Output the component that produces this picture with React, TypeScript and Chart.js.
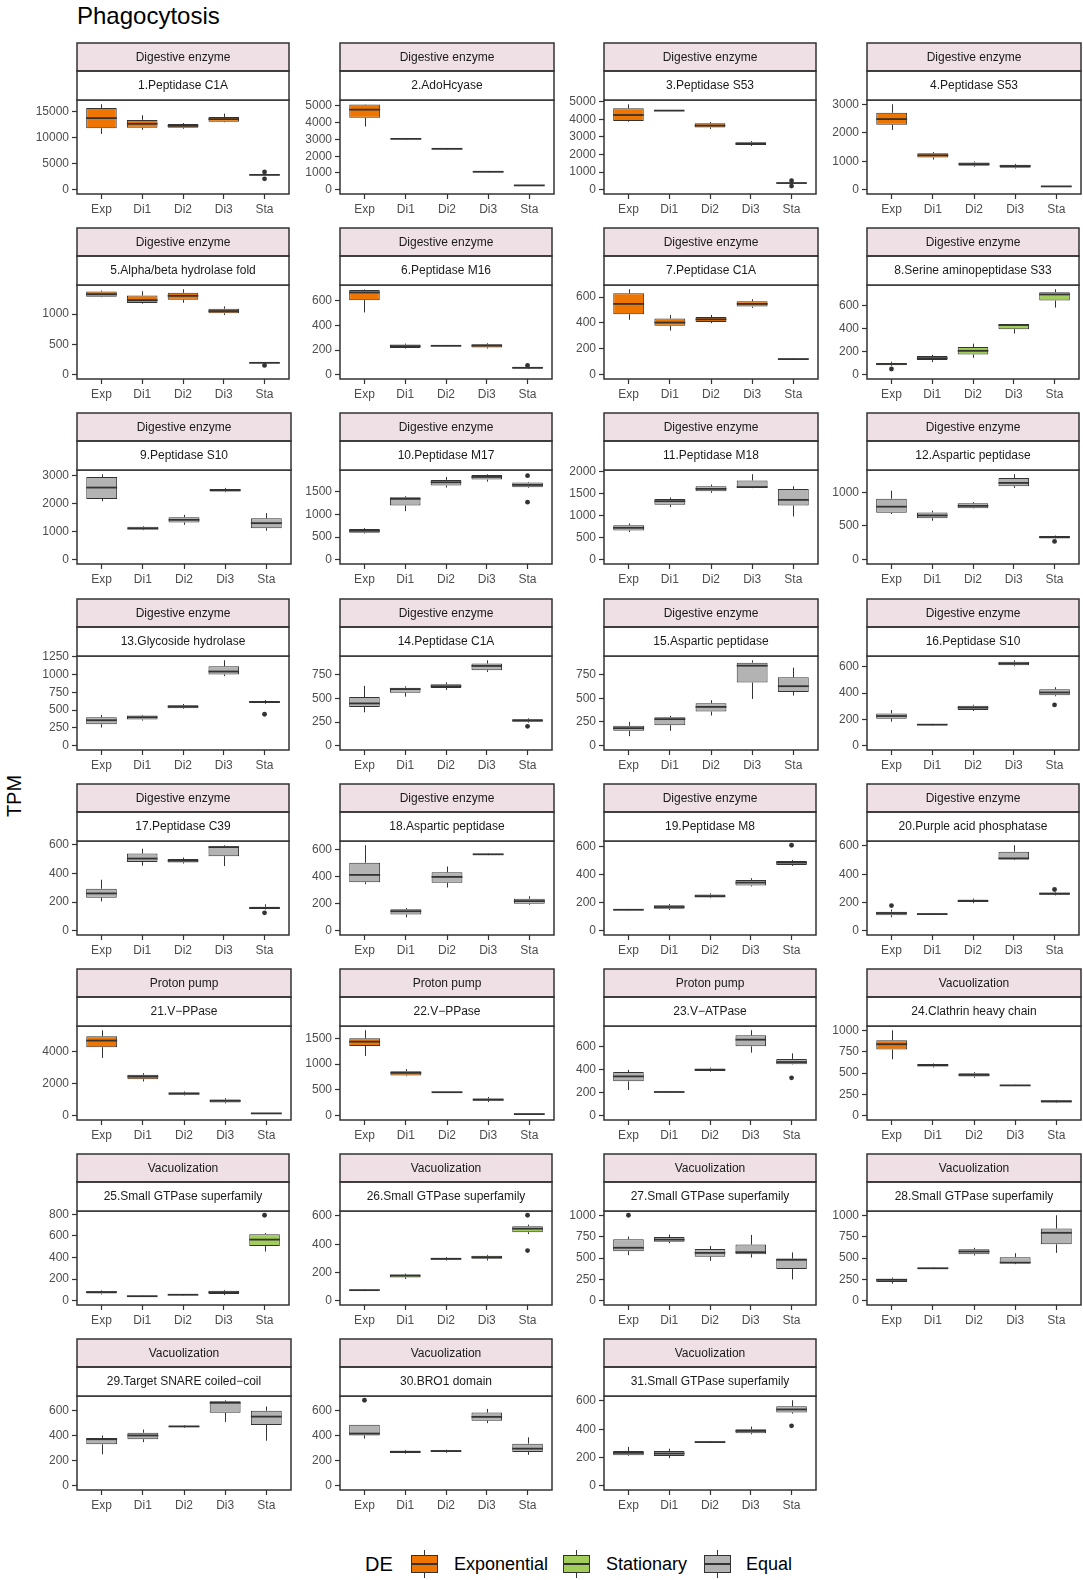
import React, { useEffect, useRef } from 'react';
import { Chart, registerables } from 'chart.js';

Chart.register(...registerables);

// Sampling stages shown on every panel's x axis
const GROUPS = ['Exp', 'Di1', 'Di2', 'Di3', 'Sta'];

// Functional category (upper strip) and gene family (lower strip) of each panel
const CATEGORY = [
  'Digestive enzyme', 'Digestive enzyme', 'Digestive enzyme', 'Digestive enzyme',
  'Digestive enzyme', 'Digestive enzyme', 'Digestive enzyme', 'Digestive enzyme',
  'Digestive enzyme', 'Digestive enzyme', 'Digestive enzyme', 'Digestive enzyme',
  'Digestive enzyme', 'Digestive enzyme', 'Digestive enzyme', 'Digestive enzyme',
  'Digestive enzyme', 'Digestive enzyme', 'Digestive enzyme', 'Digestive enzyme',
  'Proton pump', 'Proton pump', 'Proton pump', 'Vacuolization',
  'Vacuolization', 'Vacuolization', 'Vacuolization', 'Vacuolization',
  'Vacuolization', 'Vacuolization', 'Vacuolization',
];

const GENE = [
  '1.Peptidase C1A', '2.AdoHcyase', '3.Peptidase S53', '4.Peptidase S53',
  '5.Alpha/beta hydrolase fold', '6.Peptidase M16', '7.Peptidase C1A', '8.Serine aminopeptidase S33',
  '9.Peptidase S10', '10.Peptidase M17', '11.Peptidase M18', '12.Aspartic peptidase',
  '13.Glycoside hydrolase', '14.Peptidase C1A', '15.Aspartic peptidase', '16.Peptidase S10',
  '17.Peptidase C39', '18.Aspartic peptidase', '19.Peptidase M8', '20.Purple acid phosphatase',
  '21.V\u2212PPase', '22.V\u2212PPase', '23.V\u2212ATPase', '24.Clathrin heavy chain',
  '25.Small GTPase superfamily', '26.Small GTPase superfamily', '27.Small GTPase superfamily', '28.Small GTPase superfamily',
  '29.Target SNARE coiled\u2212coil', '30.BRO1 domain', '31.Small GTPase superfamily',
];

// Differential-expression class of each panel (fill colour of its boxes)
const DE = [
  'Exponential', 'Exponential', 'Exponential', 'Exponential',
  'Exponential', 'Exponential', 'Exponential', 'Stationary',
  'Equal', 'Equal', 'Equal', 'Equal',
  'Equal', 'Equal', 'Equal', 'Equal',
  'Equal', 'Equal', 'Equal', 'Equal',
  'Exponential', 'Exponential', 'Equal', 'Exponential',
  'Stationary', 'Stationary', 'Equal', 'Equal',
  'Equal', 'Equal', 'Equal',
];

const DE_LEVELS = ['Exponential', 'Stationary', 'Equal'];

// Spacing of the y-axis tick labels per panel
const TICK_STEP = [
  5000, 1000, 1000, 1000,
  500, 200, 200, 200,
  1000, 500, 500, 500,
  250, 250, 250, 200,
  200, 200, 200, 200,
  2000, 500, 200, 250,
  200, 200, 250, 250,
  200, 200, 200,
];

// TPM box statistics, one row per panel, one column per stage (Exp, Di1, Di2, Di3, Sta)
const LOWER = [
  [10700, 11500, 11700, 12950, 2750],
  [3770, 3000, 2410, 1040, 240],
  [3860, 4470, 3450, 2480, 330],
  [2100, 1060, 805, 745, 100],
  [1280, 1171, 1188, 986, 188],
  [505, 212, 230, 212, 46],
  [424, 341, 398, 516, 115],
  [76, 109, 147, 358, 584],
  [2079, 1051, 1240, 2398, 1027],
  [581, 1074, 1596, 1728, 1588],
  [627, 1193, 1517, 1625, 981],
  [677, 577, 759, 1064, 310],
  [256, 353, 516, 977, 590],
  [354, 520, 590, 780, 245],
  [101, 157, 318, 493, 528],
  [183, 155, 264, 605, 376],
  [205, 455, 470, 453, 148],
  [346, 100, 321, 562, 193],
  [146, 148, 233, 317, 464],
  [95, 112, 195, 500, 250],
  [3590, 2124, 1258, 763, 120],
  [1156, 766, 448, 266, 28],
  [224, 200, 385, 550, 445],
  [661, 564, 444, 350, 150],
  [58, 35, 50, 52, 455],
  [68, 154, 285, 285, 472],
  [533, 673, 467, 506, 250],
  [200, 372, 529, 428, 560],
  [250, 347, 460, 508, 358],
  [375, 255, 262, 498, 246],
  [210, 195, 302, 364, 510],
];

const Q1 = [
  [11800, 11900, 11900, 13050, 2800],
  [4290, 3020, 2430, 1055, 250],
  [3900, 4480, 3530, 2540, 355],
  [2280, 1130, 840, 770, 110],
  [1286, 1182, 1237, 1013, 192],
  [604, 217, 232, 220, 51],
  [467, 378, 408, 526, 118],
  [82, 127, 176, 396, 645],
  [2161, 1075, 1323, 2421, 1122],
  [596, 1199, 1640, 1772, 1603],
  [664, 1246, 1555, 1635, 1230],
  [696, 616, 764, 1089, 315],
  [302, 367, 525, 1000, 600],
  [410, 560, 612, 800, 255],
  [157, 216, 360, 665, 567],
  [206, 158, 272, 612, 384],
  [231, 481, 478, 522, 152],
  [360, 120, 356, 565, 200],
  [148, 157, 238, 324, 470],
  [110, 115, 203, 505, 255],
  [4250, 2268, 1300, 825, 130],
  [1351, 779, 452, 290, 30],
  [300, 204, 390, 605, 448],
  [774, 575, 458, 352, 155],
  [66, 38, 53, 62, 505],
  [72, 165, 290, 298, 485],
  [580, 690, 515, 545, 370],
  [220, 375, 545, 440, 660],
  [330, 370, 465, 580, 484],
  [400, 260, 268, 517, 268],
  [215, 210, 305, 372, 519],
];

const MEDIAN = [
  [13750, 12650, 12250, 13550, 2850],
  [4780, 3035, 2440, 1070, 258],
  [4240, 4490, 3640, 2610, 380],
  [2480, 1210, 900, 830, 117],
  [1329, 1231, 1302, 1051, 196],
  [666, 231, 234, 236, 56],
  [547, 403, 428, 547, 121],
  [94, 144, 208, 432, 698],
  [2563, 1110, 1417, 2468, 1299],
  [640, 1346, 1713, 1831, 1655],
  [725, 1329, 1608, 1650, 1359],
  [786, 656, 798, 1138, 335],
  [358, 400, 549, 1042, 614],
  [448, 600, 630, 845, 268],
  [185, 280, 409, 843, 627],
  [226, 160, 290, 625, 405],
  [261, 505, 490, 585, 160],
  [415, 145, 400, 568, 220],
  [150, 170, 248, 345, 488],
  [125, 118, 212, 512, 262],
  [4660, 2433, 1380, 928, 145],
  [1435, 831, 456, 312, 32],
  [343, 207, 400, 663, 468],
  [837, 591, 478, 355, 168],
  [80, 42, 55, 78, 565],
  [75, 178, 297, 308, 510],
  [620, 715, 560, 568, 479],
  [245, 380, 576, 445, 795],
  [370, 400, 472, 660, 550],
  [415, 270, 276, 548, 295],
  [233, 228, 309, 388, 540],
];

const Q3 = [
  [15700, 13400, 12600, 13950, 2900],
  [5080, 3050, 2450, 1080, 265],
  [4620, 4500, 3770, 2700, 400],
  [2700, 1280, 955, 875, 125],
  [1373, 1307, 1351, 1089, 200],
  [687, 244, 236, 247, 62],
  [629, 434, 445, 568, 124],
  [103, 162, 241, 440, 718],
  [2940, 1169, 1512, 2516, 1476],
  [677, 1383, 1765, 1875, 1706],
  [785, 1381, 1668, 1800, 1608],
  [904, 701, 837, 1212, 350],
  [400, 423, 567, 1116, 628],
  [515, 615, 650, 870, 280],
  [210, 300, 448, 875, 721],
  [246, 163, 305, 638, 429],
  [294, 540, 502, 592, 168],
  [505, 160, 435, 570, 238],
  [152, 183, 260, 364, 500],
  [135, 122, 220, 560, 270],
  [4930, 2537, 1440, 1010, 155],
  [1500, 864, 460, 335, 34],
  [381, 210, 412, 701, 495],
  [883, 605, 498, 358, 180],
  [88, 46, 58, 92, 615],
  [78, 185, 302, 318, 528],
  [720, 745, 605, 657, 494],
  [258, 384, 603, 510, 845],
  [380, 422, 478, 672, 597],
  [485, 278, 282, 582, 335],
  [245, 245, 313, 400, 562],
];

const UPPER = [
  [16400, 14300, 12800, 14600, 2950],
  [5100, 3070, 2460, 1095, 275],
  [4850, 4510, 3840, 2760, 420],
  [3000, 1320, 990, 910, 130],
  [1389, 1378, 1410, 1128, 204],
  [692, 252, 238, 255, 66],
  [660, 462, 462, 583, 128],
  [114, 173, 270, 442, 743],
  [3035, 1193, 1594, 2551, 1653],
  [699, 1405, 1831, 1890, 1720],
  [823, 1412, 1706, 1940, 1668],
  [1023, 726, 852, 1266, 358],
  [432, 432, 586, 1200, 641],
  [634, 630, 672, 905, 290],
  [252, 315, 479, 900, 822],
  [272, 166, 312, 650, 445],
  [357, 574, 512, 598, 185],
  [635, 168, 477, 573, 256],
  [154, 191, 268, 376, 507],
  [150, 125, 228, 605, 275],
  [5300, 2640, 1505, 1093, 165],
  [1656, 903, 464, 364, 36],
  [400, 213, 420, 745, 544],
  [1000, 611, 510, 362, 185],
  [95, 50, 60, 100, 625],
  [82, 192, 308, 325, 539],
  [751, 774, 640, 770, 565],
  [272, 388, 619, 556, 1000],
  [400, 447, 482, 680, 630],
  [485, 285, 287, 611, 385],
  [275, 262, 316, 419, 605],
];

// Outlying replicates per panel and stage
const OUTLIERS: number[][][] = [
  [[], [], [], [], [3400, 2100]],
  [[], [], [], [], []],
  [[], [], [], [], [510, 210]],
  [[], [], [], [], []],
  [[], [], [], [], [153]],
  [[], [], [], [], [75]],
  [[], [], [], [], []],
  [[50], [], [], [], []],
  [[], [], [], [], []],
  [[], [], [], [], [1860, 1272]],
  [[], [], [], [], []],
  [[], [], [], [], [271]],
  [[], [], [], [], [442]],
  [[], [], [], [], [205]],
  [[], [], [], [], []],
  [[], [], [], [], [310]],
  [[], [], [], [], [125]],
  [[], [], [], [], []],
  [[], [], [], [], [612]],
  [[178], [], [], [], [292]],
  [[], [], [], [], []],
  [[], [], [], [], []],
  [[], [], [], [], [330]],
  [[], [], [], [], []],
  [[], [], [], [], [790]],
  [[], [], [], [], [605, 355]],
  [[1000], [], [], [], []],
  [[], [], [], [], []],
  [[], [], [], [], []],
  [[680], [], [], [], []],
  [[], [], [], [], [424]],
];

const DE_COLORS: Record<string, string> = {
  Exponential: '#EE7600',
  Stationary: '#A2CD5A',
  Equal: '#B3B3B3',
};

const FONT = '"Liberation Sans", Arial, Helvetica, sans-serif';
const INK = '#333333';
const STRIP_FILL = '#EEE0E5';

// Facet grid geometry (page pixels)
const COL_LEFT = [77, 340, 604, 867];
const ROW_TOP = [43, 228, 413, 599, 784, 969, 1154, 1339];
const PLOT_W = 214;
const PLOT_H = 94;
const STRIP_H = [28, 29];
const AXIS_W = 60;
const XAXIS_H = 24;
const TOP_PAD = 1 + STRIP_H[0] + STRIP_H[1];

function Panel({ index }: { index: number }) {
  const ref = useRef<HTMLCanvasElement>(null);
  const col = index % 4;
  const row = Math.floor(index / 4);
  const canvasW = AXIS_W + PLOT_W + 2;
  const canvasH = TOP_PAD + PLOT_H + XAXIS_H + 1;

  useEffect(() => {
    const canvas = ref.current;
    if (!canvas) return;

    const outlierPoints: { x: number; y: number }[] = [];
    OUTLIERS[index].forEach((vals, g) => vals.forEach((v) => outlierPoints.push({ x: g, y: v })));
    const peak = Math.max(...UPPER[index], ...outlierPoints.map((p) => p.y));
    const step = TICK_STEP[index];
    const fill = DE_COLORS[DE[index]];

    const boxParts = {
      id: 'boxParts',
      beforeDatasetsDraw(chart: any) {
        const { ctx, scales } = chart;
        const x = scales.x;
        const y = scales.y;
        ctx.save();
        ctx.strokeStyle = INK;
        ctx.lineWidth = 1;
        GROUPS.forEach((_, g) => {
          const px = Math.round(x.getPixelForValue(g)) + 0.5;
          ctx.beginPath();
          ctx.moveTo(px, y.getPixelForValue(UPPER[index][g]));
          ctx.lineTo(px, y.getPixelForValue(Q3[index][g]));
          ctx.moveTo(px, y.getPixelForValue(Q1[index][g]));
          ctx.lineTo(px, y.getPixelForValue(LOWER[index][g]));
          ctx.stroke();
        });
        ctx.restore();
      },
      afterDatasetsDraw(chart: any) {
        const { ctx, scales, chartArea } = chart;
        const y = scales.y;
        const meta = chart.getDatasetMeta(1);
        ctx.save();
        ctx.strokeStyle = INK;
        ctx.lineWidth = 1.8;
        meta.data.forEach((bar: any, g: number) => {
          const py = y.getPixelForValue(MEDIAN[index][g]);
          ctx.beginPath();
          ctx.moveTo(bar.x - bar.width / 2, py);
          ctx.lineTo(bar.x + bar.width / 2, py);
          ctx.stroke();
        });
        ctx.lineWidth = 1.5;
        ctx.strokeRect(chartArea.left, chartArea.top, chartArea.right - chartArea.left, chartArea.bottom - chartArea.top);
        ctx.restore();
      },
      afterDraw(chart: any) {
        const { ctx, chartArea } = chart;
        const l = chartArea.left;
        const w = chartArea.right - chartArea.left;
        const y0 = 1;
        const y1 = y0 + STRIP_H[0];
        const y2 = y1 + STRIP_H[1];
        ctx.save();
        ctx.fillStyle = STRIP_FILL;
        ctx.fillRect(l, y0, w, STRIP_H[0]);
        ctx.fillStyle = '#FFFFFF';
        ctx.fillRect(l, y1, w, STRIP_H[1]);
        ctx.strokeStyle = INK;
        ctx.lineWidth = 1.5;
        ctx.strokeRect(l, y0, w, STRIP_H[0]);
        ctx.strokeRect(l, y1, w, STRIP_H[1]);
        ctx.fillStyle = '#1A1A1A';
        ctx.font = `12px ${FONT}`;
        ctx.textAlign = 'center';
        ctx.textBaseline = 'middle';
        ctx.fillText(CATEGORY[index], l + w / 2, (y0 + y1) / 2 + 0.5);
        ctx.fillText(GENE[index], l + w / 2, (y1 + y2) / 2 + 0.5);
        ctx.restore();
      },
    };

    const tickFont = { family: FONT, size: 12 };

    const chart = new Chart(canvas, {
      type: 'bar',
      data: {
        datasets: [
          {
            type: 'scatter',
            data: outlierPoints,
            pointRadius: 2.4,
            pointBackgroundColor: INK,
            pointBorderWidth: 0,
            order: 0,
          } as any,
          {
            type: 'bar',
            data: GROUPS.map((_, g) => ({ x: g, y: [Q1[index][g], Q3[index][g]] })),
            backgroundColor: fill,
            borderColor: INK,
            borderWidth: 1,
            borderSkipped: false,
            categoryPercentage: 1,
            barPercentage: 0.75,
            order: 1,
          } as any,
        ],
      },
      options: {
        animation: false,
        responsive: false,
        events: [],
        layout: { padding: { top: TOP_PAD, left: 0, right: 2, bottom: 0 } },
        plugins: { legend: { display: false }, tooltip: { enabled: false } },
        scales: {
          x: {
            type: 'linear',
            min: -0.6,
            max: 4.6,
            offset: false,
            afterBuildTicks: (scale: any) => {
              scale.ticks = GROUPS.map((_, g) => ({ value: g }));
            },
            afterFit: (scale: any) => {
              scale.height = XAXIS_H + 1;
            },
            ticks: {
              autoSkip: false,
              maxRotation: 0,
              padding: 3,
              color: '#4D4D4D',
              font: tickFont,
              callback: (v: any) => GROUPS[v] ?? '',
            },
            grid: {
              offset: false,
              drawOnChartArea: false,
              drawTicks: true,
              tickLength: 5,
              tickWidth: 1.2,
              color: INK,
            },
            border: { display: false },
          },
          y: {
            type: 'linear',
            min: -0.05 * peak,
            max: 1.05 * peak,
            afterBuildTicks: (scale: any) => {
              const t = [];
              for (let v = 0; v <= 1.05 * peak; v += step) t.push({ value: v });
              scale.ticks = t;
            },
            afterFit: (scale: any) => {
              scale.width = AXIS_W;
            },
            ticks: {
              autoSkip: false,
              padding: 3,
              color: '#4D4D4D',
              font: tickFont,
              callback: (v: any) => String(v),
            },
            grid: {
              drawOnChartArea: false,
              drawTicks: true,
              tickLength: 5,
              tickWidth: 1.2,
              color: INK,
            },
            border: { display: false },
          },
        },
      } as any,
      plugins: [boxParts],
    });

    return () => chart.destroy();
  }, [index]);

  return (
    <canvas
      ref={ref}
      width={canvasW}
      height={canvasH}
      style={{
        position: 'absolute',
        left: COL_LEFT[col] - AXIS_W,
        top: ROW_TOP[row] - 1,
        width: canvasW,
        height: canvasH,
      }}
    />
  );
}

function LegendKey({ color }: { color: string }) {
  return (
    <div style={{ position: 'relative', width: 27, height: 28 }}>
      <div style={{ position: 'absolute', left: 13, top: 0, width: 1, height: 28, background: INK }} />
      <div
        style={{
          position: 'absolute',
          left: 0,
          top: 5,
          width: 27,
          height: 18,
          boxSizing: 'border-box',
          background: color,
          border: `1px solid ${INK}`,
        }}
      />
      <div style={{ position: 'absolute', left: 0, top: 13, width: 27, height: 1.5, background: INK }} />
    </div>
  );
}

export default function App() {
  const legendX = [411, 563, 704];
  const labelX = [454, 606, 746];
  return (
    <div
      style={{
        position: 'absolute',
        left: 0,
        top: 0,
        width: 1083,
        height: 1580,
        background: '#FFFFFF',
        fontFamily: FONT,
        overflow: 'hidden',
      }}
    >
      <div style={{ position: 'absolute', left: 77, top: 4, fontSize: 24, lineHeight: '24px', color: '#000' }}>
        Phagocytosis
      </div>
      <div
        style={{
          position: 'absolute',
          left: 14 - 50,
          top: 796 - 12,
          width: 100,
          height: 24,
          lineHeight: '24px',
          fontSize: 20,
          textAlign: 'center',
          color: '#000',
          transform: 'rotate(-90deg)',
        }}
      >
        TPM
      </div>
      {GENE.map((_, i) => (
        <Panel key={i} index={i} />
      ))}
      <div style={{ position: 'absolute', left: 365, top: 1554, fontSize: 20, lineHeight: '20px', color: '#000' }}>
        DE
      </div>
      {DE_LEVELS.map((lvl, k) => (
        <React.Fragment key={lvl}>
          <div style={{ position: 'absolute', left: legendX[k], top: 1550 }}>
            <LegendKey color={DE_COLORS[lvl]} />
          </div>
          <div
            style={{
              position: 'absolute',
              left: labelX[k],
              top: 1555,
              fontSize: 18,
              lineHeight: '18px',
              color: '#000',
            }}
          >
            {lvl}
          </div>
        </React.Fragment>
      ))}
    </div>
  );
}
